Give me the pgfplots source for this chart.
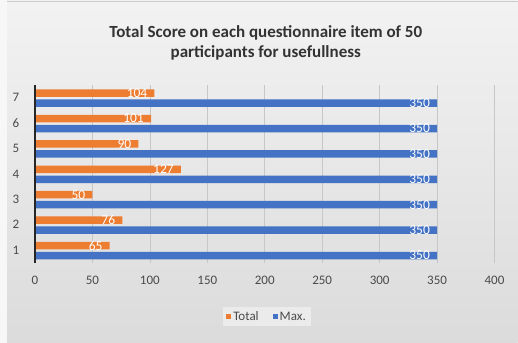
\documentclass[border=0pt]{standalone}
\usepackage{pgfplots}
\pgfplotsset{compat=1.18}
\usepackage{fontspec}
\setmainfont{Carlito}
\definecolor{cOrange}{HTML}{ED7D31}
\definecolor{cBlue}{HTML}{4472C4}
\definecolor{cTick}{HTML}{4A4A4A}
\definecolor{cTitle}{HTML}{333333}
\begin{document}
\begin{tikzpicture}
\shade[top color=white!95!black, bottom color=white!86!black] (-35pt,-80pt) rectangle (483pt,263pt);
\fill[white!97!black] (-35pt,-80pt) rectangle (-28pt,263pt);
\draw[white!80!black, line width=1pt] (-28pt,261pt) -- (483pt,261pt);
\useasboundingbox (-35pt,-80pt) rectangle (483pt,263pt);
\node[font=\bfseries\fontsize{17}{20.5}\selectfont, text=cTitle, align=center] at (231pt,220pt)
  {Total Score on each questionnaire item of 50\\participants for usefullness};
\begin{axis}[
  at={(0pt,0pt)}, anchor=south west,
  scale only axis, width=460pt, height=178pt,
  xbar, bar width=7.5pt,
  xmin=0, xmax=400, ymin=0.5, ymax=7.5,
  xtick={0,50,...,400}, ytick={1,...,7},
  xmajorgrids, grid style={white!78!black, line width=0.6pt},
  axis line style={draw=none},
  major tick style={draw=none},
  ticklabel style={font=\fontsize{13}{15}\selectfont, text=cTick},
  /pgf/number format/assume math mode=true,
  xticklabel style={yshift=-10pt},
  yticklabel style={xshift=-8pt},
  nodes near coords,
  nodes near coords align={anchor=east},
  every node near coord/.append style={text=white, font=\fontsize{13.5}{15}\selectfont, xshift=-7pt, inner sep=0pt},
  legend columns=2,
  legend style={at={(0.505,-0.303)}, anchor=center, draw=none, fill=white!92!black,
    font=\fontsize{13}{15}\selectfont, text=cTick, /tikz/every even column/.append style={column sep=12pt}},
  legend image code/.code={\fill[#1] (0pt,-2.5pt) rectangle (5pt,2.5pt);},
]
\addplot[fill=cOrange, draw=none, bar shift=4.5pt] coordinates {(65,1) (76,2) (50,3) (127,4) (90,5) (101,6) (104,7)};
\addplot[fill=cBlue, draw=none, bar shift=-5.5pt] coordinates {(350,1) (350,2) (350,3) (350,4) (350,5) (350,6) (350,7)};
\legend{Total, Max.}
\end{axis}
\draw[black!85, line width=1.2pt] (0pt,0pt) -- (0pt,178pt);
\end{tikzpicture}
\end{document}
